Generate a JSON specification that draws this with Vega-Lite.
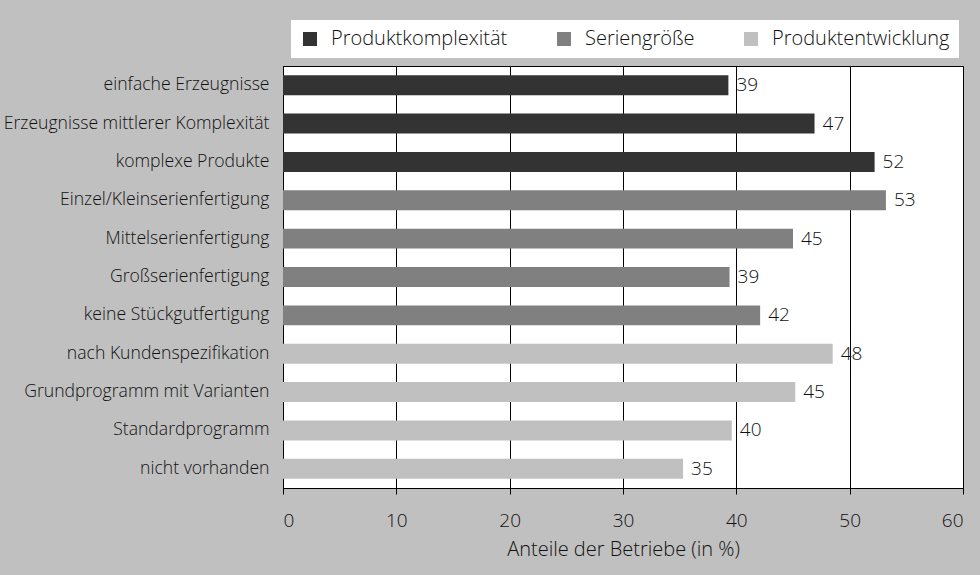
{
  "$schema": "https://vega.github.io/schema/vega-lite/v6.json",
  "autosize": "none",
  "width": 680,
  "height": 422,
  "padding": {"left": 283, "top": 66, "right": 17, "bottom": 87},
  "background": "#c0c0c0",
  "config": {
    "view": {"fill": "white", "stroke": "black", "strokeWidth": 1},
    "font": "Open Sans"
  },
  "data": {
    "values": [
      {"kategorie": "einfache Erzeugnisse", "gruppe": "Produktkomplexität", "wert": 39.3, "label": "39"},
      {"kategorie": "Erzeugnisse mittlerer Komplexität", "gruppe": "Produktkomplexität", "wert": 46.9, "label": "47"},
      {"kategorie": "komplexe Produkte", "gruppe": "Produktkomplexität", "wert": 52.2, "label": "52"},
      {"kategorie": "Einzel/Kleinserienfertigung", "gruppe": "Seriengröße", "wert": 53.2, "label": "53"},
      {"kategorie": "Mittelserienfertigung", "gruppe": "Seriengröße", "wert": 45.0, "label": "45"},
      {"kategorie": "Großserienfertigung", "gruppe": "Seriengröße", "wert": 39.4, "label": "39"},
      {"kategorie": "keine Stückgutfertigung", "gruppe": "Seriengröße", "wert": 42.1, "label": "42"},
      {"kategorie": "nach Kundenspezifikation", "gruppe": "Produktentwicklung", "wert": 48.5, "label": "48"},
      {"kategorie": "Grundprogramm mit Varianten", "gruppe": "Produktentwicklung", "wert": 45.2, "label": "45"},
      {"kategorie": "Standardprogramm", "gruppe": "Produktentwicklung", "wert": 39.6, "label": "40"},
      {"kategorie": "nicht vorhanden", "gruppe": "Produktentwicklung", "wert": 35.3, "label": "35"}
    ]
  },
  "encoding": {
    "y": {
      "field": "kategorie",
      "type": "nominal",
      "sort": null,
      "scale": {"paddingInner": 0.48, "paddingOuter": 0.24},
      "axis": {
        "title": null,
        "ticks": false,
        "domainColor": "black",
        "labelFontSize": 17.6,
        "labelFontWeight": 300,
        "labelColor": "#111111",
        "labelPadding": 14,
        "labelLimit": 400
      }
    }
  },
  "layer": [
    {
      "mark": {"type": "bar"},
      "encoding": {
        "x": {
          "field": "wert",
          "type": "quantitative",
          "scale": {"domain": [0, 60], "nice": false},
          "axis": {
            "values": [0, 10, 20, 30, 40, 50, 60],
            "grid": true,
            "gridColor": "black",
            "gridOpacity": 1,
            "domainColor": "black",
            "tickColor": "black",
            "tickSize": 6,
            "labelFontSize": 19,
            "labelFontWeight": 300,
            "labelColor": "#111111",
            "labelPadding": 17,
            "title": "Anteile der Betriebe (in %)",
            "titleFontSize": 20,
            "titleFontWeight": 300,
            "titleColor": "#111111",
            "titlePadding": 9
          }
        },
        "color": {
          "field": "gruppe",
          "type": "nominal",
          "scale": {
            "domain": ["Produktkomplexität", "Seriengröße", "Produktentwicklung"],
            "range": ["#333333", "#808080", "#c0c0c0"]
          },
          "legend": {
            "orient": "none",
            "legendX": 8,
            "legendY": -46,
            "direction": "horizontal",
            "title": null,
            "fillColor": "white",
            "padding": 9,
            "symbolType": "square",
            "symbolSize": 196,
            "symbolStrokeWidth": 0,
            "symbolOpacity": 1,
            "labelFontSize": 20,
            "labelFontWeight": 300,
            "labelColor": "#111111",
            "labelOffset": 11,
            "columnPadding": 46,
            "labelLimit": 400
          }
        }
      }
    },
    {
      "mark": {"type": "text", "align": "left", "baseline": "middle", "dx": 8, "fontSize": 19, "fontWeight": 300, "color": "#111111"},
      "encoding": {
        "x": {"field": "wert", "type": "quantitative"},
        "text": {"field": "label"}
      }
    }
  ]
}
